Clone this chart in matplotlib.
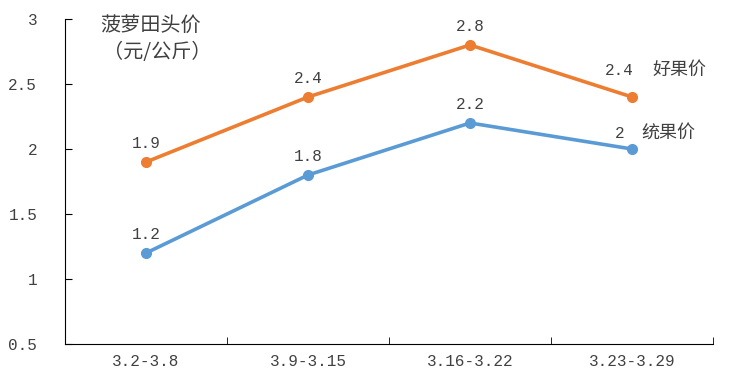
import matplotlib
matplotlib.use("Agg")
import matplotlib.pyplot as plt

plt.rcParams['font.family'] = ['Liberation Mono', 'Noto Sans CJK SC']

# data
periods = ['3.2-3.8', '3.9-3.15', '3.16-3.22', '3.23-3.29']
good_price = [1.9, 2.4, 2.8, 2.4]
common_price = [1.2, 1.8, 2.2, 2.0]
good_labels = ['1.9', '2.4', '2.8', '2.4']
common_labels = ['1.2', '1.8', '2.2', '2']

txt = '#404040'
cjk = ['Noto Sans CJK SC', 'DejaVu Sans']
fig = plt.figure(figsize=(7.5, 3.87), dpi=100)
ax = fig.add_axes([0.0867, 0.111, 0.864, 0.84])

x = range(len(periods))
ax.plot(x, good_price, color='#ED7D31', lw=2.6, marker='o', ms=7)
ax.plot(x, common_price, color='#5B9BD5', lw=2.6, marker='o', ms=7)

# data labels
last = len(periods) - 1
for i, (v, s) in enumerate(zip(good_price, good_labels)):
    dx = -9 if i == last else 0
    dy = 14 if i == last else 8
    ax.annotate(s, (i, v), textcoords='offset points', xytext=(dx, dy),
                ha='center', va='bottom', fontsize=11.5, color=txt)
for i, (v, s) in enumerate(zip(common_price, common_labels)):
    dx = -9 if i == last else 0
    dy = 6 if i == last else 8
    ax.annotate(s, (i, v), textcoords='offset points', xytext=(dx, dy),
                ha='center', va='bottom', fontsize=11.5, color=txt)

# series names next to the last points
ax.annotate('好果价', (last, good_price[last]), textcoords='offset points',
            xytext=(15, 13), ha='left', va='bottom', fontsize=13,
            color=txt, family=cjk)
ax.annotate('统果价', (last, common_price[last]), textcoords='offset points',
            xytext=(7, 5), ha='left', va='bottom', fontsize=13,
            color=txt, family=cjk)

# unit title inside the plot
ax.text(0.054, 1.01, '菠萝田头价', transform=ax.transAxes, fontsize=14.5,
        color=txt, ha='left', va='top', family=cjk)
ax.text(0.058, 0.93, '（元/公斤）', transform=ax.transAxes, fontsize=14.5,
        color=txt, ha='left', va='top', family=cjk)

ax.set_xlim(-0.5, len(periods) - 0.5)
ax.set_ylim(0.5, 3)
ax.set_yticks([0.5, 1, 1.5, 2, 2.5, 3])
ax.set_yticklabels(['0.5', '1', '1.5', '2', '2.5', '3'])
ax.set_xticks(list(x))
ax.set_xticklabels(periods)
ax.set_xticks([i - 0.5 for i in range(len(periods) + 1)], minor=True)
ax.tick_params(axis='x', which='major', length=0, pad=7, labelsize=11.5, colors=txt)
ax.tick_params(axis='x', which='minor', direction='in', length=5, color='black')
ax.tick_params(axis='y', direction='in', length=5, pad=20, labelsize=11.5,
               labelcolor=txt)

for s in ['top', 'right']:
    ax.spines[s].set_visible(False)
ax.spines['left'].set_color('black')
ax.spines['bottom'].set_color('black')

fig.savefig('out.png', dpi=100)
